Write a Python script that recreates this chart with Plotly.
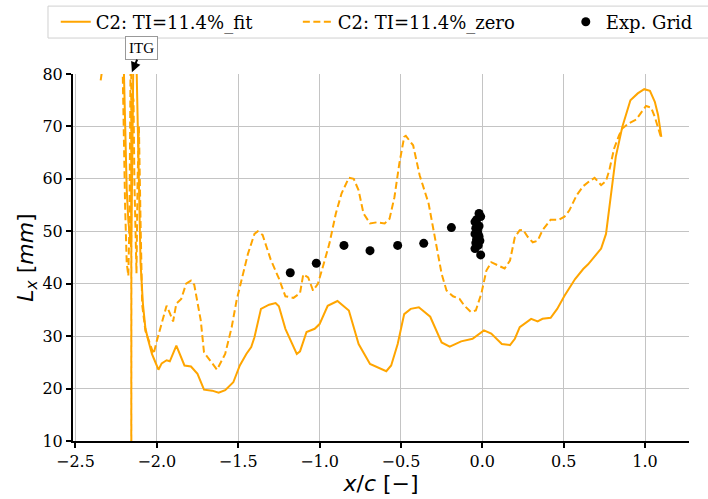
import plotly.graph_objects as go

# ---- data ----
fit_x = [-2.24, -2.215, -2.205, -2.195, -2.185, -2.175, -2.165, -2.158, -2.152, -2.147, -2.14, -2.13,
         -2.12, -2.11, -2.10, -2.085, -2.07, -2.055, -2.04, -2.03, -2.015, -1.99, -1.97, -1.94, -1.92,
         -1.88, -1.83, -1.79, -1.75, -1.71, -1.66, -1.62, -1.58, -1.53, -1.49, -1.45, -1.42, -1.40,
         -1.36, -1.31, -1.27, -1.25, -1.21, -1.17, -1.14, -1.12, -1.08, -1.03, -1.00, -0.95, -0.89,
         -0.82, -0.76, -0.69, -0.64, -0.59, -0.56, -0.52, -0.48, -0.44, -0.39, -0.32, -0.25, -0.20,
         -0.13, -0.06, 0.01, 0.055, 0.12, 0.17, 0.20, 0.23, 0.30, 0.34, 0.37, 0.42, 0.46, 0.505,
         0.57, 0.62, 0.65, 0.73, 0.76, 0.79, 0.82, 0.86, 0.91, 0.955, 0.995, 1.03, 1.06, 1.08, 1.10]
fit_y = [105, 95, 84, 68, 58, 52, 48, 47, 60, 80, 95, 90,
         72, 55, 44, 36, 31.5, 29.5, 27.5, 26.6, 25.5, 23.6, 24.8, 25.4, 25.2,
         28.2, 24.4, 24.2, 22.8, 19.8, 19.6, 19.2, 19.7, 21.2, 24.4, 26.6, 27.9, 29.8,
         35.2, 36.0, 36.3, 35.7, 31.4, 28.5, 26.6, 27.1, 30.8, 31.4, 32.3, 35.8, 36.7,
         34.9, 28.5, 24.7, 24.0, 23.3, 24.4, 28.5, 34.2, 35.2, 35.5, 33.7, 28.8, 28.0,
         29.0, 29.5, 31.1, 30.5, 28.5, 28.3, 29.5, 31.7, 33.3, 32.8, 33.3, 33.5, 35.2, 37.7,
         40.9, 42.8, 43.7, 46.7, 49.5, 57.2, 64.2, 69.9, 75.0, 76.3, 77.1, 76.8, 74.7, 72.2, 68.0]

zero_x = [-2.345, -2.33, -2.30, -2.26, -2.215, -2.205, -2.195, -2.185, -2.175, -2.168, -2.162, -2.157,
          -2.157, -2.156, -2.15, -2.143, -2.138, -2.13, -2.125, -2.118, -2.11, -2.10, -2.09, -2.07,
          -2.05, -2.02, -2.00, -1.97, -1.94, -1.92, -1.90, -1.88, -1.85, -1.82, -1.79, -1.77, -1.73,
          -1.71, -1.67, -1.63, -1.58, -1.54, -1.51, -1.48, -1.44, -1.40, -1.38, -1.35, -1.30, -1.25,
          -1.21, -1.16, -1.12, -1.10, -1.07, -1.04, -1.01, -0.98, -0.94, -0.90, -0.865, -0.82, -0.79,
          -0.76, -0.73, -0.69, -0.65, -0.60, -0.57, -0.54, -0.51, -0.48, -0.47, -0.425, -0.385, -0.33,
          -0.29, -0.25, -0.22, -0.18, -0.14, -0.11, -0.07, -0.04, -0.006, 0.025, 0.055, 0.096, 0.137,
          0.17, 0.20, 0.23, 0.25, 0.28, 0.31, 0.34, 0.37, 0.42, 0.47, 0.505, 0.535, 0.58, 0.62, 0.66,
          0.69, 0.73, 0.76, 0.78, 0.81, 0.84, 0.86, 0.90, 0.945, 0.975, 1.006, 1.037, 1.06, 1.10]
zero_y = [78.8, 82, 95, 100, 90, 70, 55, 44, 41.5, 52, 80, 100,
          -40, 60, 76, 75, 60, 44, 42, 60, 70, 52, 36, 31,
          29.1, 26.6, 29.1, 32.6, 35.8, 34.4, 32.8, 36.2, 37.1, 40.0, 40.6, 39.8, 33.0,
          26.9, 25.3, 23.6, 26.6, 31.7, 36.8, 40.6, 45.7, 49.5, 50.0, 49.3, 44.6, 41.0,
          37.6, 37.3, 38.2, 41.8, 41.2, 38.7, 40.0, 43.2, 47.6, 53.4, 57.2, 60.2, 60.0,
          57.8, 53.4, 51.5, 51.7, 51.5, 52.4, 56.5, 62.9, 68.0, 68.2, 66.4, 60.7, 55.3,
          48.9, 41.9, 38.7, 37.6, 37.1, 35.8, 34.6, 34.9, 38.1, 42.5, 44.1, 43.5, 42.9,
          44.4, 48.9, 50.2, 50.3, 48.9, 47.9, 48.2, 50.2, 52.2, 52.2, 52.8, 54.0, 56.9, 58.6, 59.6,
          60.2, 58.8, 59.6, 61.6, 65.8, 68.3, 69.6, 70.6, 71.3, 72.6, 73.9, 73.6, 71.8, 67.7]

grid_x = [-1.18, -1.02, -0.85, -0.69, -0.52, -0.36, -0.19,
          -0.02, -0.01, -0.045, -0.04, -0.03, -0.045, -0.02, -0.035, -0.04, -0.025,
          -0.045, -0.01, -0.02, -0.03, -0.015, -0.035]
grid_y = [42.1, 43.9, 47.3, 46.3, 47.3, 47.7, 50.7,
          53.4, 52.8, 51.8, 50.6, 50.0, 49.5, 49.0, 48.5, 47.8, 47.3,
          46.7, 45.5, 51.0, 49.8, 48.2, 52.2]

x_ticks = [-2.5, -2.0, -1.5, -1.0, -0.5, 0.0, 0.5, 1.0]
y_ticks = [10, 20, 30, 40, 50, 60, 70, 80]

ORANGE = "#FFA500"
SERIF = "DejaVu Serif"

fig = go.Figure()
fig.add_trace(go.Scatter(x=fit_x, y=fit_y, mode="lines", name="C2: TI=11.4%_fit",
                         line=dict(color=ORANGE, width=2), legend="legend"))
fig.add_trace(go.Scatter(x=zero_x, y=zero_y, mode="lines", name="C2: TI=11.4%_zero",
                         line=dict(color=ORANGE, width=2, dash="7px,3.5px"), legend="legend2"))
fig.add_trace(go.Scatter(x=grid_x, y=grid_y, mode="markers", name="Exp. Grid",
                         marker=dict(color="black", size=9), legend="legend3"))

fig.add_annotation(x=-2.153, y=1.005, xref="x", yref="paper", text="ITG",
                   showarrow=True, arrowhead=2, arrowsize=1, arrowwidth=2, arrowcolor="black",
                   ax=10, ay=-24, font=dict(family="Liberation Serif", size=15, color="black"),
                   bgcolor="white", bordercolor="#999999", borderwidth=1, borderpad=3)

# legend frame
fig.add_shape(type="rect", xref="paper", yref="paper", x0=-0.0406, x1=1.04, y0=1.098, y1=1.185,
              line=dict(color="#d0d0d0", width=1), fillcolor="white", layer="below")

leg_common = dict(orientation="h", yanchor="middle", xanchor="left", y=1.1417,
                  bgcolor="rgba(0,0,0,0)", borderwidth=0,
                  font=dict(family=SERIF, size=18, color="black"))

fig.update_layout(
    width=708, height=499,
    margin=dict(l=73, r=19, t=74, b=58, autoexpand=False),
    paper_bgcolor="white", plot_bgcolor="white",
    showlegend=True,
    legend=dict(x=-0.028, **leg_common),
    legend2=dict(x=0.365, **leg_common),
    legend3=dict(x=0.80, **leg_common),
    xaxis=dict(range=[-2.515, 1.27], tickvals=x_ticks, tickformat=".1f",
               showgrid=True, gridcolor="#c4c4c4", gridwidth=1, zeroline=False,
               showline=True, linecolor="black", linewidth=2,
               ticks="outside", ticklen=5, tickwidth=2, tickcolor="black",
               tickfont=dict(family=SERIF, size=16, color="black"),
               title=dict(text="<i>x</i>/<i>c</i> [−]", font=dict(family="DejaVu Sans", size=22, color="black"),
                          standoff=4)),
    yaxis=dict(range=[10, 80], tickvals=y_ticks,
               showgrid=True, gridcolor="#c4c4c4", gridwidth=1, zeroline=False,
               showline=True, linecolor="black", linewidth=2,
               ticks="outside", ticklen=5, tickwidth=2, tickcolor="black",
               tickfont=dict(family=SERIF, size=16, color="black"),
               title=dict(text="<i>L</i><sub><i>x</i></sub> [<i>mm</i>]",
                          font=dict(family="DejaVu Sans", size=22, color="black"), standoff=3)),
)

fig.write_html("out.html")
